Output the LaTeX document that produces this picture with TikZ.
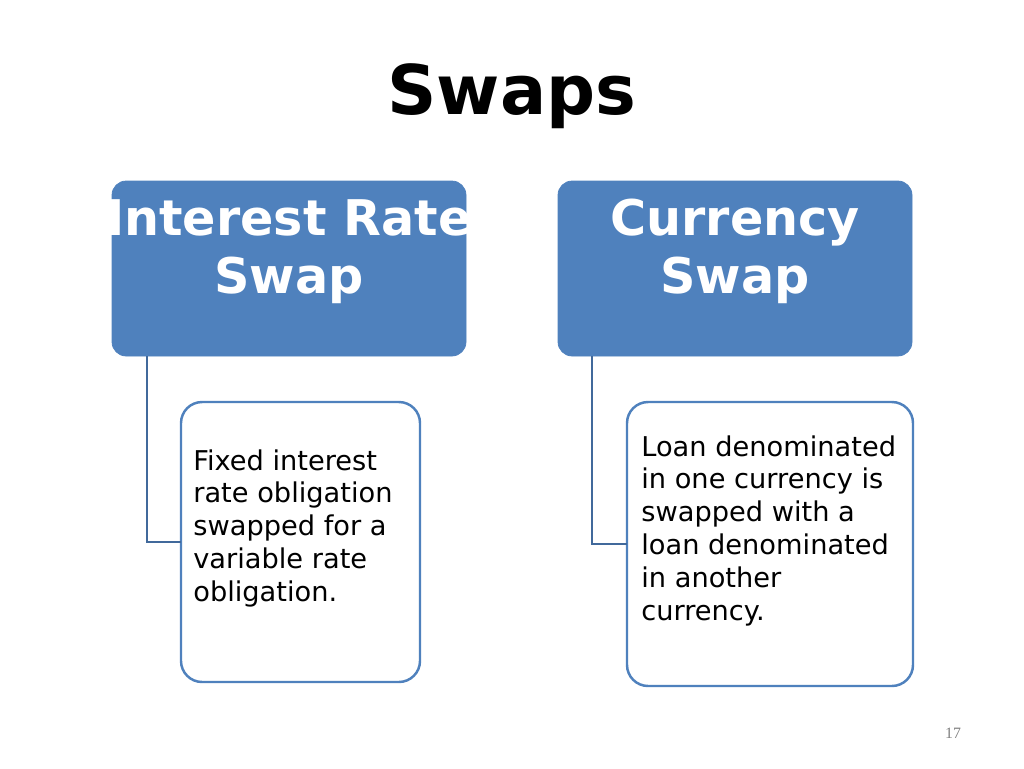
\documentclass[tikz,border=0pt]{standalone}
\usepackage{fontspec}
\setmainfont{DejaVu Sans}
\newfontfamily\pagefont{Liberation Serif}
\usetikzlibrary{positioning}
\definecolor{HeadBlue}{RGB}{79,129,189}
\definecolor{LineBlue}{RGB}{65,105,155}
\tikzset{
  headbox/.style={draw=HeadBlue, fill=HeadBlue, rounded corners=8pt, text=white,
    font=\fontsize{28}{33}\selectfont\bfseries, align=center, anchor=north west},
  bodybox/.style={draw=HeadBlue, line width=1.4pt, fill=white, rounded corners=12pt,
    anchor=north west},
  bodytext/.style={font=\fontsize{15.5}{18.7}\selectfont, align=left, anchor=north west, inner sep=0pt},
  link/.style={draw=LineBlue, line width=1.5pt}
}
\begin{document}
\begin{tikzpicture}[x=0.02cm,y=-0.02cm]
      \useasboundingbox (0,0) rectangle (1024,768);
      \node[font=\fontsize{39}{45}\selectfont\bfseries] (title) at (512,96) {Swaps};
      % heading boxes
      \draw[headbox] (112,181) rectangle (466,356);
      \draw[headbox] (558,181) rectangle (912,356);
      \node[headbox, draw=none, fill=none, anchor=north] (irs) at (289,193) {Interest Rate\\Swap};
      \node[headbox, draw=none, fill=none, anchor=north] (cs) at (735,193) {Currency\\Swap};
      % detail boxes
      \draw[bodybox] (181,402) rectangle (420,682);
      \draw[bodybox] (627,402) rectangle (913,686);
      \coordinate (irsdesc) at (181,542);
      \coordinate (csdesc) at (627,544);
      \node[bodytext] (irstext) at (193,449) {Fixed interest\\rate obligation\\swapped for a\\variable rate\\obligation.};
      \node[bodytext] (cstext) at (641,435) {Loan denominated\\in one currency is\\swapped with a\\loan denominated\\in another\\currency.};
      % connectors
      \draw[link] (147,356) |- (irsdesc);
      \draw[link] (592,356) |- (csdesc);
      \node[font=\fontsize{9}{10}\selectfont\pagefont, text=gray] (page) at (953,733) {17};
\end{tikzpicture}
\end{document}
